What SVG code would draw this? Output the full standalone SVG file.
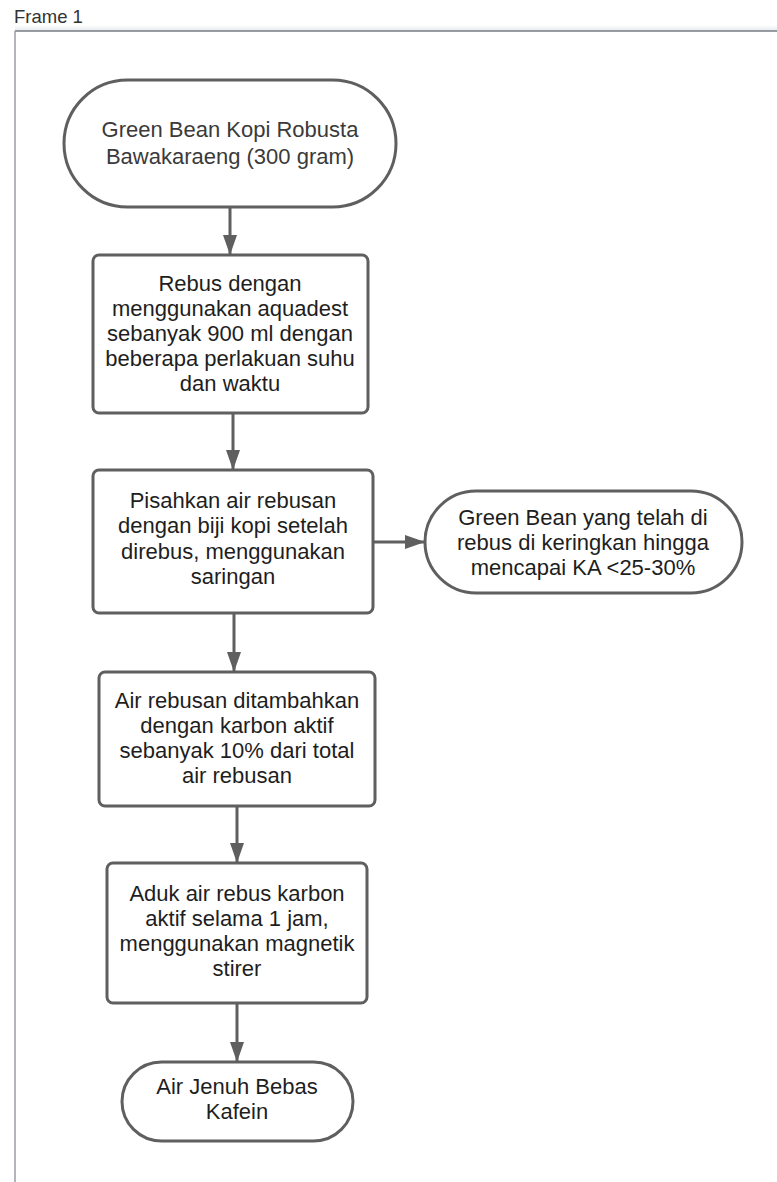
<svg xmlns="http://www.w3.org/2000/svg" width="777" height="1182" viewBox="0 0 777 1182">
<defs>
<linearGradient id="shade" x1="0" y1="0" x2="0" y2="1">
<stop offset="0" stop-color="#ffffff"/>
<stop offset="1" stop-color="#e6e8eb"/>
</linearGradient>
<marker id="arrow" markerUnits="userSpaceOnUse" viewBox="0 0 20 14" refX="19" refY="7" markerWidth="20" markerHeight="14" orient="auto">
<path d="M0,0 L20,7 L0,14 Z" fill="#5f5f5f"/>
</marker>
</defs>
<style>
.shape{fill:#ffffff;stroke:#5f5f5f;stroke-width:3}
.conn{fill:none;stroke:#5f5f5f;stroke-width:3;marker-end:url(#arrow)}
.t{font-family:"Liberation Sans",Arial,sans-serif;font-size:22px;fill:#1e1e1e;text-anchor:middle}
.t1{font-family:"Liberation Sans",Arial,sans-serif;font-size:22px;fill:#3a3a3a;text-anchor:middle}
</style>
<rect width="777" height="1182" fill="#ffffff"/>
<g id="frame">
<text x="14" y="23" font-family="'Liberation Sans',Arial,sans-serif" font-size="18.5" fill="#333333">Frame 1</text>
<rect x="15" y="25" width="762" height="6" fill="url(#shade)"/>
<line x1="15" y1="31" x2="777" y2="31" stroke="#767b85" stroke-width="1.5"/>
<line x1="15" y1="31" x2="15" y2="1182" stroke="#9a9ca3" stroke-width="1.5"/>
</g>
<g id="connectors">
<path class="conn" d="M230,207 L230,254"/>
<path class="conn" d="M233,413 L233,469"/>
<path class="conn" d="M373,542 L424,542"/>
<path class="conn" d="M234,613 L234,671"/>
<path class="conn" d="M237,806 L237,862"/>
<path class="conn" d="M237,1003 L237,1061"/>
</g>
<g id="node1">
<rect class="shape" x="64" y="80" width="332" height="127" rx="63.5"/>
<text class="t1" x="230" y="137">Green Bean Kopi Robusta</text>
<text class="t1" x="230" y="164">Bawakaraeng (300 gram)</text>
</g>
<g id="node2">
<rect class="shape" x="93" y="255" width="275" height="158" rx="6"/>
<text class="t" x="230" y="290.5">Rebus dengan</text>
<text class="t" x="230" y="315.5">menggunakan aquadest</text>
<text class="t" x="230" y="341">sebanyak 900 ml dengan</text>
<text class="t" x="230" y="366">beberapa perlakuan suhu</text>
<text class="t" x="230" y="391">dan waktu</text>
</g>
<g id="node3">
<rect class="shape" x="93" y="470" width="280" height="143" rx="6"/>
<text class="t" x="233" y="507.5">Pisahkan air rebusan</text>
<text class="t" x="233" y="533">dengan biji kopi setelah</text>
<text class="t" x="233" y="558.5">direbus, menggunakan</text>
<text class="t" x="233" y="583.5">saringan</text>
</g>
<g id="node4">
<rect class="shape" x="425" y="491" width="317" height="102" rx="51"/>
<text class="t" x="583" y="524.5">Green Bean yang telah di</text>
<text class="t" x="583" y="549.5">rebus di keringkan hingga</text>
<text class="t" x="583" y="574.5">mencapai KA &lt;25-30%</text>
</g>
<g id="node5">
<rect class="shape" x="99" y="672" width="276" height="134" rx="6"/>
<text class="t" x="237" y="707.5">Air rebusan ditambahkan</text>
<text class="t" x="237" y="732.5">dengan karbon aktif</text>
<text class="t" x="237" y="757.5">sebanyak 10% dari total</text>
<text class="t" x="237" y="782.5">air rebusan</text>
</g>
<g id="node6">
<rect class="shape" x="107" y="863" width="260" height="140" rx="6"/>
<text class="t" x="237" y="901">Aduk air rebus karbon</text>
<text class="t" x="237" y="926">aktif selama 1 jam,</text>
<text class="t" x="237" y="951">menggunakan magnetik</text>
<text class="t" x="237" y="976">stirer</text>
</g>
<g id="node7">
<rect class="shape" x="122" y="1062" width="231" height="79" rx="39.5"/>
<text class="t" x="237" y="1093.5">Air Jenuh Bebas</text>
<text class="t" x="237" y="1119">Kafein</text>
</g>
</svg>
